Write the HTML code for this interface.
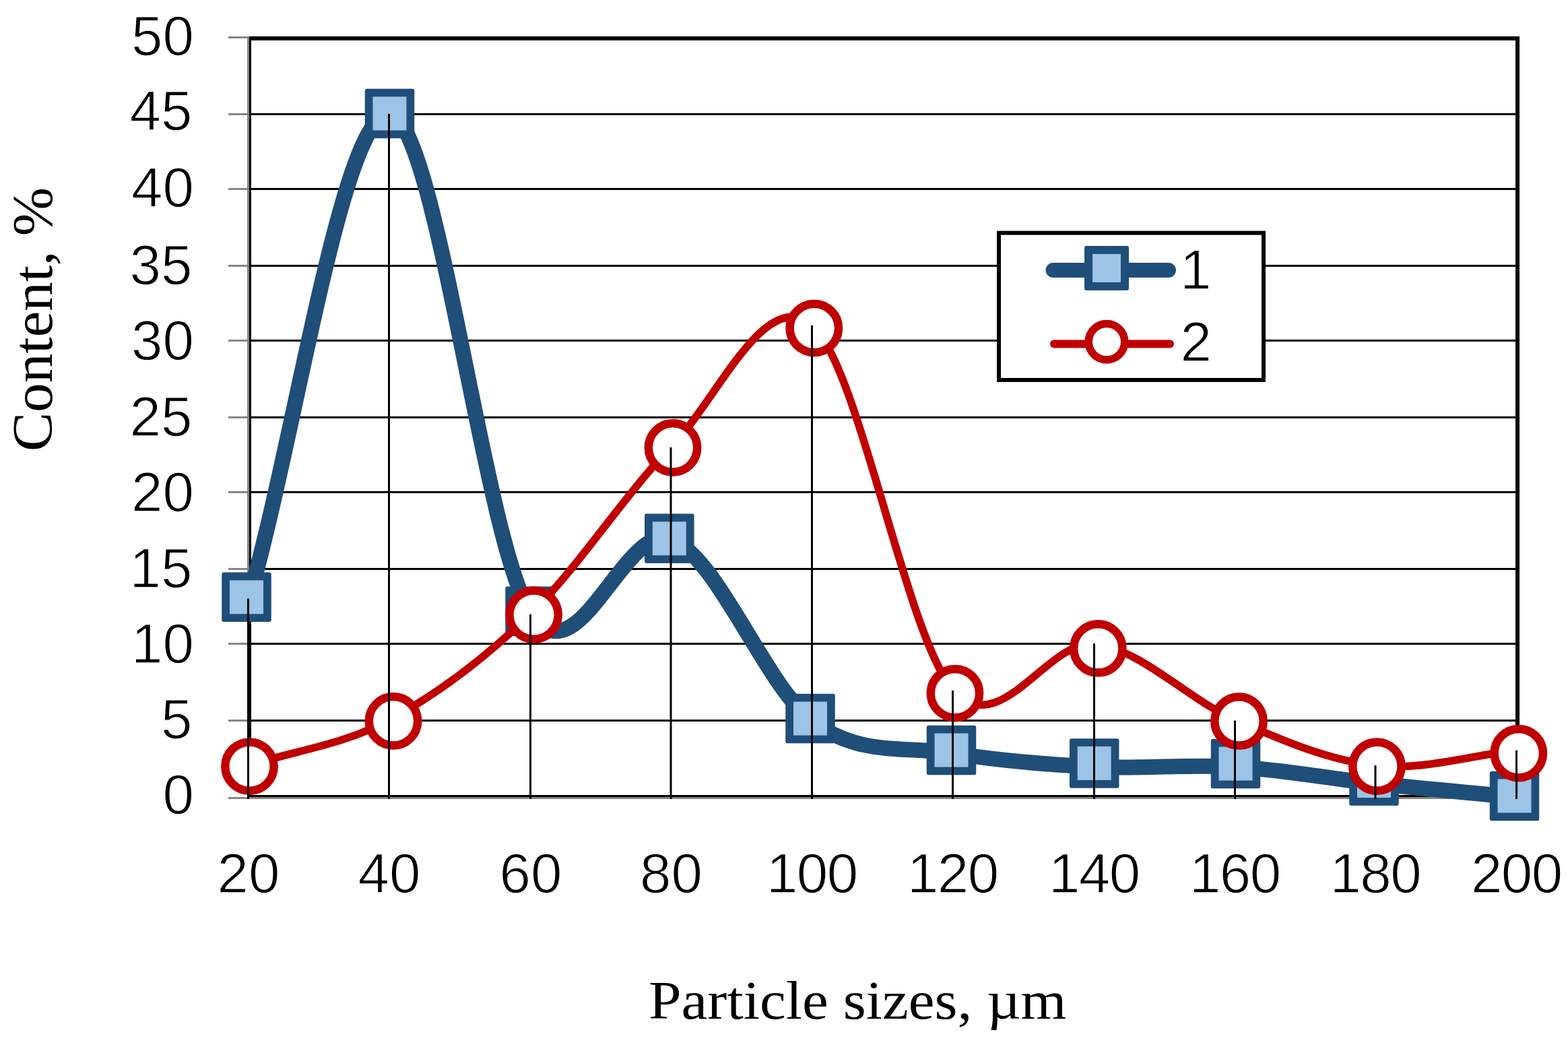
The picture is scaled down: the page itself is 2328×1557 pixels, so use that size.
<!DOCTYPE html>
<html lang="en"><head><meta charset="utf-8"><title>Particle size distribution</title>
<style>html,body{margin:0;padding:0;background:#fff;}body{width:2328px;height:1557px;overflow:hidden;}svg{display:block;}.n{font-family:"Liberation Sans",sans-serif;font-size:83.5px;fill:#000;stroke:#fff;stroke-width:1.3px;stroke-linejoin:round;}.t{font-family:"Liberation Serif",serif;font-size:80px;fill:#000;}</style></head><body>
<svg xmlns="http://www.w3.org/2000/svg" width="2328" height="1557" viewBox="0 0 2328 1557">
<rect width="2328" height="1557" fill="#fff"/>
<g stroke="#000" stroke-width="3" fill="none">
<line x1="370.0" y1="1069.5" x2="2253.0" y2="1069.5"/>
<line x1="370.0" y1="955.5" x2="2253.0" y2="955.5"/>
<line x1="370.0" y1="844.5" x2="2253.0" y2="844.5"/>
<line x1="370.0" y1="730.5" x2="2253.0" y2="730.5"/>
<line x1="370.0" y1="619.5" x2="2253.0" y2="619.5"/>
<line x1="370.0" y1="505.5" x2="2253.0" y2="505.5"/>
<line x1="370.0" y1="394.5" x2="2253.0" y2="394.5"/>
<line x1="370.0" y1="280.5" x2="2253.0" y2="280.5"/>
<line x1="370.0" y1="169.5" x2="2253.0" y2="169.5"/>
</g>
<rect x="370.0" y="57.0" width="1883.0" height="1126.0" fill="none" stroke="#000" stroke-width="6"/>
<g stroke="#868686" stroke-width="3" fill="none">
<line x1="368.5" y1="54" x2="368.5" y2="1186"/>
<line x1="367" y1="1184.5" x2="2253" y2="1184.5"/>
<line x1="339" y1="1184.5" x2="367" y2="1184.5"/>
<line x1="339" y1="1069.5" x2="367" y2="1069.5"/>
<line x1="339" y1="955.5" x2="367" y2="955.5"/>
<line x1="339" y1="844.5" x2="367" y2="844.5"/>
<line x1="339" y1="730.5" x2="367" y2="730.5"/>
<line x1="339" y1="619.5" x2="367" y2="619.5"/>
<line x1="339" y1="505.5" x2="367" y2="505.5"/>
<line x1="339" y1="394.5" x2="367" y2="394.5"/>
<line x1="339" y1="280.5" x2="367" y2="280.5"/>
<line x1="339" y1="169.5" x2="367" y2="169.5"/>
<line x1="339" y1="55.5" x2="367" y2="55.5"/>
</g>
<g class="n" text-anchor="end">
<text x="288.0" y="82.2">50</text>
<text x="285.5" y="193.1">45</text>
<text x="288.0" y="307.3">40</text>
<text x="285.5" y="421.6">35</text>
<text x="288.0" y="534.1">30</text>
<text x="285.5" y="646.5">25</text>
<text x="288.0" y="759.0">20</text>
<text x="285.5" y="871.5">15</text>
<text x="288.0" y="983.9">10</text>
<text x="285.5" y="1096.4">5</text>
<text x="288.0" y="1207.7">0</text>
</g>
<g class="n" text-anchor="middle">
<text x="369.0" y="1324.8">20</text>
<text x="578.0" y="1324.8">40</text>
<text x="788.0" y="1324.8">60</text>
<text x="996.5" y="1324.8">80</text>
<text x="1205.3" y="1324.8" letter-spacing="-1.5">100</text>
<text x="1414.3" y="1324.8" letter-spacing="-1.5">120</text>
<text x="1624.3" y="1324.8" letter-spacing="-1.5">140</text>
<text x="1833.3" y="1324.8" letter-spacing="-1.5">160</text>
<text x="2041.8" y="1324.8" letter-spacing="-1.5">180</text>
<text x="2251.3" y="1324.8" letter-spacing="-1.5">200</text>
</g>
<text class="t" x="963" y="1512" textLength="620.5" lengthAdjust="spacingAndGlyphs">Particle sizes, µm</text>
<text class="t" style="font-size:84px" transform="translate(77.3 670) rotate(-90)" textLength="392" lengthAdjust="spacingAndGlyphs">Content, %</text>
<rect x="1483" y="345.7" width="393" height="218.3" fill="#fff" stroke="#000" stroke-width="6"/>
<line x1="1563.5" y1="401" x2="1735" y2="401" stroke="#1F4E79" stroke-width="22" stroke-linecap="round"/>
<rect x="1610" y="365" width="66" height="66" rx="3" fill="#1F4E79"/><rect x="1622" y="377" width="42" height="42" fill="#9DC3E6"/>
<line x1="1565" y1="510.5" x2="1737" y2="510.5" stroke="#C00000" stroke-width="12" stroke-linecap="round"/>
<circle cx="1643" cy="507.3" r="26.75" fill="#fff" stroke="#C00000" stroke-width="11.5"/>
<text class="n" x="1752" y="428.6">1</text>
<text class="n" x="1752.5" y="536.2">2</text>
<path d="M369.00 890.54 C438.67 650.33 508.17 166.63 578.00 169.90 C647.83 173.17 718.25 805.04 788.00 910.13 C857.75 1015.23 926.83 773.70 996.50 800.46 C1066.17 827.22 1136.25 1017.78 1206.00 1070.70 C1275.75 1123.62 1345.17 1106.73 1415.00 1117.99 C1484.83 1129.25 1555.17 1134.88 1625.00 1138.26 C1694.83 1141.64 1764.42 1134.13 1834.00 1138.26 C1903.58 1142.39 1972.83 1155.53 2042.50 1163.03 C2112.17 1170.54 2182.17 1176.54 2252.00 1183.30" fill="none" stroke="#1F4E79" stroke-width="23" stroke-linecap="round" stroke-linejoin="round"/>
<rect x="329.25" y="849.55" width="73.50" height="73.50" rx="3" fill="#1F4E79"/><rect x="341.00" y="861.30" width="50.00" height="50.00" fill="#9DC3E6"/>
<rect x="541.75" y="131.75" width="73.50" height="73.50" rx="3" fill="#1F4E79"/><rect x="553.50" y="143.50" width="50.00" height="50.00" fill="#9DC3E6"/>
<rect x="750.25" y="870.45" width="73.50" height="73.50" rx="3" fill="#1F4E79"/><rect x="762.00" y="882.20" width="50.00" height="50.00" fill="#9DC3E6"/>
<rect x="957.05" y="762.55" width="73.50" height="73.50" rx="3" fill="#1F4E79"/><rect x="968.80" y="774.30" width="50.00" height="50.00" fill="#9DC3E6"/>
<rect x="1166.25" y="1029.75" width="73.50" height="73.50" rx="3" fill="#1F4E79"/><rect x="1178.00" y="1041.50" width="50.00" height="50.00" fill="#9DC3E6"/>
<rect x="1375.75" y="1076.75" width="73.50" height="73.50" rx="3" fill="#1F4E79"/><rect x="1387.50" y="1088.50" width="50.00" height="50.00" fill="#9DC3E6"/>
<rect x="1587.95" y="1096.15" width="73.50" height="73.50" rx="3" fill="#1F4E79"/><rect x="1599.70" y="1107.90" width="50.00" height="50.00" fill="#9DC3E6"/>
<rect x="1797.75" y="1096.75" width="73.50" height="73.50" rx="3" fill="#1F4E79"/><rect x="1809.50" y="1108.50" width="50.00" height="50.00" fill="#9DC3E6"/>
<rect x="2003.25" y="1122.25" width="73.50" height="73.50" rx="3" fill="#1F4E79"/><rect x="2015.00" y="1134.00" width="50.00" height="50.00" fill="#9DC3E6"/>
<rect x="2211.75" y="1144.65" width="73.50" height="73.50" rx="3" fill="#1F4E79"/><rect x="2223.50" y="1156.40" width="50.00" height="50.00" fill="#9DC3E6"/>
<path d="M369.00 1136.26 C438.67 1113.74 508.17 1106.23 578.00 1068.70 C647.83 1031.17 718.25 978.62 788.00 911.06 C857.75 843.50 926.83 734.65 996.50 663.34 C1066.17 592.03 1136.25 423.13 1206.00 483.18 C1275.75 543.23 1345.17 944.84 1415.00 1023.66 C1484.83 1102.48 1555.17 948.59 1625.00 956.10 C1694.83 963.61 1764.42 1038.67 1834.00 1068.70 C1903.58 1098.73 1972.83 1128.75 2042.50 1136.26 C2112.17 1143.77 2182.17 1121.25 2252.00 1113.74" fill="none" stroke="#C00000" stroke-width="11.5" stroke-linecap="round" stroke-linejoin="round"/>
<g fill="#fff" stroke="#C00000" stroke-width="12.5">
<circle cx="370.50" cy="1137.60" r="36.2"/>
<circle cx="584.00" cy="1070.20" r="36.2"/>
<circle cx="792.60" cy="912.60" r="36.2"/>
<circle cx="999.00" cy="664.50" r="36.2"/>
<circle cx="1208.80" cy="487.10" r="36.2"/>
<circle cx="1417.90" cy="1029.10" r="36.2"/>
<circle cx="1630.30" cy="962.40" r="36.2"/>
<circle cx="1839.50" cy="1070.40" r="36.2"/>
<circle cx="2044.40" cy="1137.60" r="36.2"/>
<circle cx="2254.80" cy="1118.10" r="36.2"/>
</g>
<g stroke="#000" stroke-width="3" fill="none">
<line x1="368.5" y1="888.5" x2="368.5" y2="1186"/>
<line x1="577.5" y1="168.9" x2="577.5" y2="1186"/>
<line x1="787.5" y1="911.8" x2="787.5" y2="1186"/>
<line x1="996.0" y1="664.0" x2="996.0" y2="1186"/>
<line x1="1205.5" y1="482.7" x2="1205.5" y2="1186"/>
<line x1="1414.5" y1="1024.9" x2="1414.5" y2="1186"/>
<line x1="1624.5" y1="955.1" x2="1624.5" y2="1186"/>
<line x1="1833.5" y1="1069.5" x2="1833.5" y2="1186"/>
<line x1="2042.0" y1="1135.9" x2="2042.0" y2="1186"/>
<line x1="2251.5" y1="1113.7" x2="2251.5" y2="1186"/>
</g>
</svg></body></html>
